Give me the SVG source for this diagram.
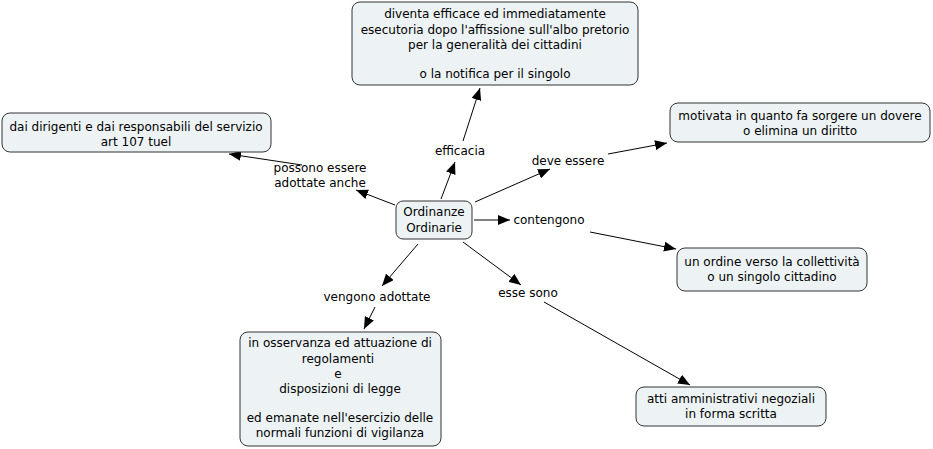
<svg xmlns="http://www.w3.org/2000/svg" width="933" height="449" viewBox="0 0 933 449">
<defs>
<marker id="ah" viewBox="0 0 12 10" refX="12" refY="5" markerWidth="12" markerHeight="10" markerUnits="userSpaceOnUse" orient="auto">
<path d="M0,0 L12,5 L0,10 z" fill="#000"/>
</marker>
<style>
.n rect{fill:#edf3f5;stroke:#333;stroke-width:1}
text{font-family:"DejaVu Sans",Verdana,sans-serif;font-size:12px;fill:#000;text-anchor:middle}
.c line{stroke:#000;stroke-width:1;marker-end:url(#ah)}
</style>
</defs>
<rect width="933" height="449" fill="#fff"/>
<g class="c" id="connectors">
<line x1="441" y1="199" x2="455" y2="162"/>
<line x1="463" y1="141" x2="480" y2="88"/>
<line x1="395" y1="205" x2="356" y2="190"/>
<line x1="302" y1="165" x2="229" y2="154"/>
<line x1="475" y1="202" x2="550" y2="169"/>
<line x1="608" y1="154" x2="667" y2="143"/>
<line x1="474" y1="220" x2="510" y2="220"/>
<line x1="590" y1="232" x2="676" y2="249"/>
<line x1="418" y1="244" x2="382" y2="286"/>
<line x1="375" y1="307" x2="364" y2="329"/>
<line x1="463" y1="242" x2="521" y2="285"/>
<line x1="544" y1="302" x2="690" y2="385"/>
</g>
<g id="labels">
<text x="460" y="155">efficacia</text>
<text x="320" y="172">possono essere</text>
<text x="320" y="187">adottate anche</text>
<text x="568" y="165">deve essere</text>
<text x="549" y="224">contengono</text>
<text x="377" y="301">vengono adottate</text>
<text x="528" y="297">esse sono</text>
</g>
<g class="n" id="n-center">
<rect x="396" y="201" width="76" height="38" rx="7"/>
<text x="434" y="216">Ordinanze</text>
<text x="434" y="232">Ordinarie</text>
</g>
<g class="n" id="n-top">
<rect x="352" y="2" width="286" height="83" rx="8"/>
<text x="495" y="18">diventa efficace ed immediatamente</text>
<text x="495" y="34">esecutoria dopo l'affissione sull'albo pretorio</text>
<text x="495" y="49">per la generalità dei cittadini</text>
<text x="495" y="78">o la notifica per il singolo</text>
</g>
<g class="n" id="n-left">
<rect x="2" y="113" width="269" height="39" rx="8"/>
<text x="136" y="131">dai dirigenti e dai responsabili del servizio</text>
<text x="136" y="146">art 107 tuel</text>
</g>
<g class="n" id="n-right-top">
<rect x="670" y="103" width="260" height="39" rx="8"/>
<text x="800" y="120">motivata in quanto fa sorgere un dovere</text>
<text x="800" y="135">o elimina un diritto</text>
</g>
<g class="n" id="n-right-mid">
<rect x="677" y="248" width="190" height="43" rx="8"/>
<text x="772" y="266">un ordine verso la collettività</text>
<text x="772" y="281">o un singolo cittadino</text>
</g>
<g class="n" id="n-bottom-left">
<rect x="240" y="332" width="201" height="114" rx="8"/>
<text x="340" y="347">in osservanza ed attuazione di</text>
<text x="338" y="363">regolamenti</text>
<text x="338" y="378">e</text>
<text x="340" y="393">disposizioni di legge</text>
<text x="340" y="422">ed emanate nell'esercizio delle</text>
<text x="340" y="437">normali funzioni di vigilanza</text>
</g>
<g class="n" id="n-bottom-right">
<rect x="636" y="387" width="190" height="39" rx="8"/>
<text x="731" y="403">atti amministrativi negoziali</text>
<text x="731" y="418">in forma scritta</text>
</g>
</svg>
